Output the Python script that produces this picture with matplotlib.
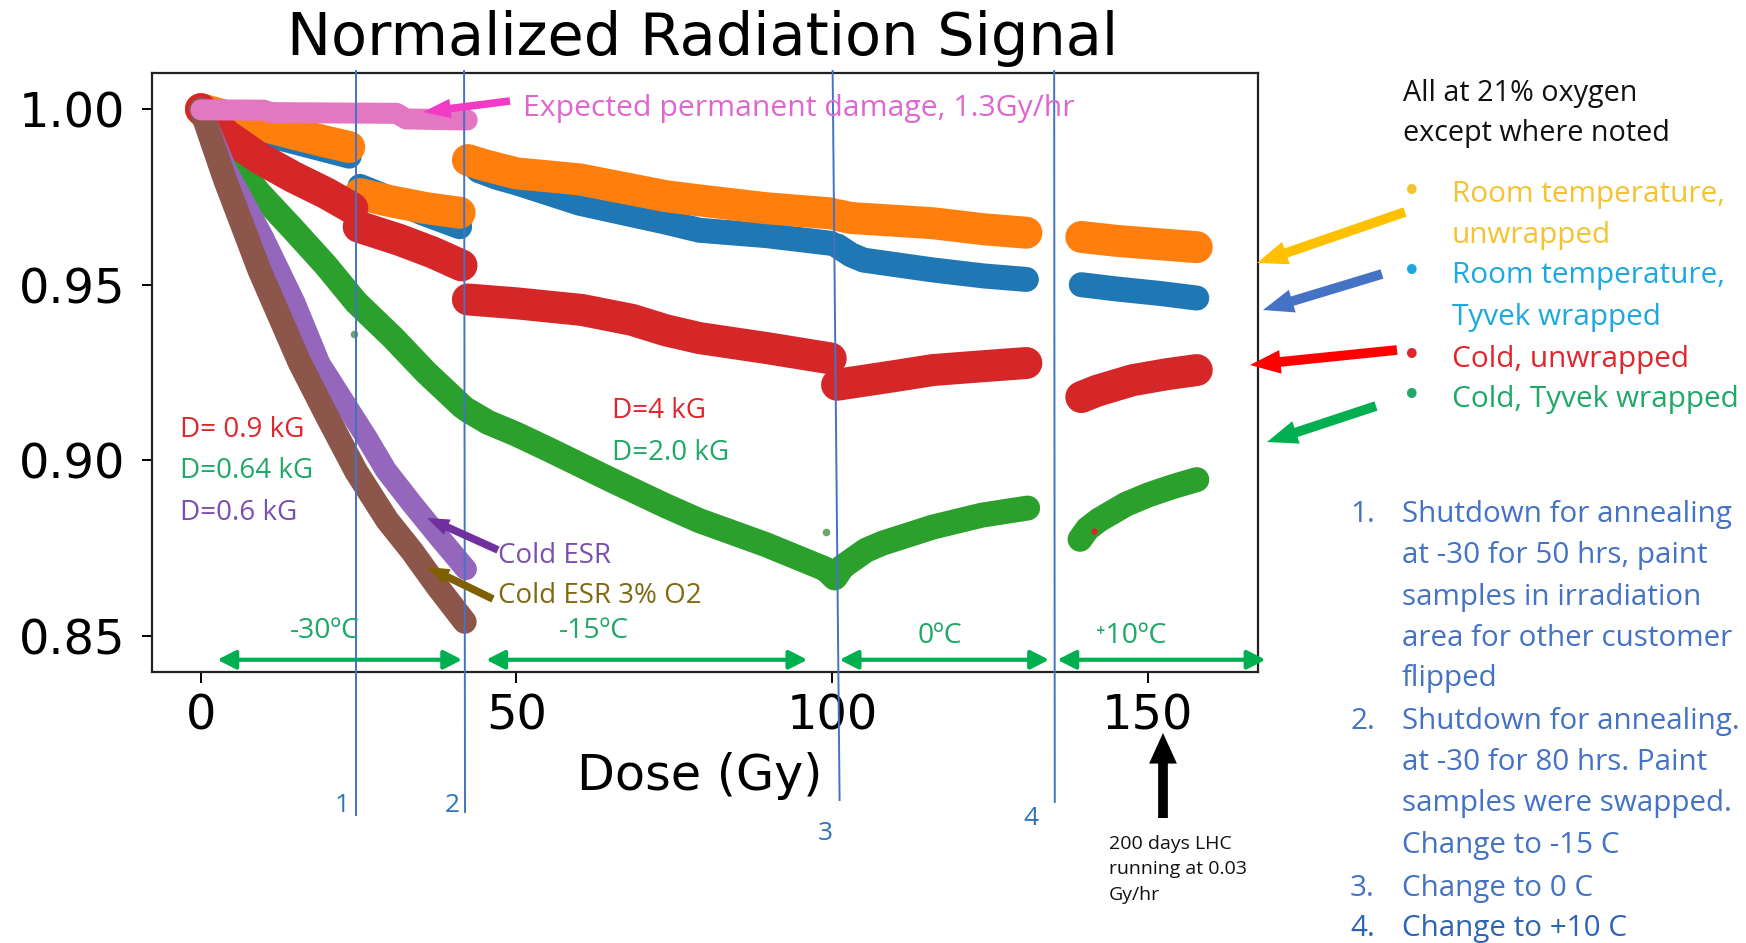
import matplotlib
matplotlib.use("Agg")
import matplotlib.pyplot as plt
from matplotlib.patches import FancyArrowPatch
from matplotlib.transforms import blended_transform_factory

# ---------------------------------------------------------------- data
# Each sample is a list of irradiation periods (dose in Gy, normalised signal)

rt_unwrapped_dose = [
    [0, 4, 7.7, 15.6, 19.9, 23.5],
    [25.2, 30, 35.7, 41.0],
    [42.3, 45, 50, 60, 73.7, 79, 89.5, 99.8],
    [100.9, 103, 116, 124, 130.8],
    [139.5, 145, 152, 157.8],
]
rt_unwrapped_signal = [
    [1.0, 0.998, 0.9963, 0.9926, 0.9907, 0.9892],
    [0.9758, 0.9738, 0.9718, 0.9705],
    [0.9855, 0.984, 0.9817, 0.980, 0.9752, 0.974, 0.9718, 0.9703],
    [0.9698, 0.969, 0.9675, 0.9658, 0.9648],
    [0.9636, 0.9625, 0.9615, 0.9607],
]

rt_tyvek_dose = [
    [0, 4, 7.7, 15.6, 19.9, 23.5],
    [25.2, 30, 35, 41.0],
    [42.3, 44, 47, 50, 60, 73.7, 79, 89.5, 99.8],
    [100.9, 103, 105, 116, 124, 130.8],
    [139.5, 145, 152, 157.8],
]
rt_tyvek_signal = [
    [1.0, 0.997, 0.994, 0.9903, 0.9883, 0.9866],
    [0.978, 0.9745, 0.9705, 0.9665],
    [0.9855, 0.9825, 0.9805, 0.979, 0.9732, 0.9678, 0.9655, 0.964, 0.9618],
    [0.961, 0.9585, 0.957, 0.9542, 0.9525, 0.9515],
    [0.950, 0.9488, 0.9475, 0.9462],
]

cold_tyvek_dose = [
    [0, 3, 6.6, 9.3, 14.5, 19.8, 24.6, 30.4, 35.7, 41.5],
    [42.2, 45.5, 49.9, 55.2, 65, 73.7, 79, 89.5, 99, 100.4],
    [100.6, 101.6, 103.5, 105.4, 108, 116, 123.8, 131.0],
    [139.3, 140.5, 142.3, 146.6, 150.2, 154, 157.8],
]
cold_tyvek_signal = [
    [1.0, 0.990, 0.982, 0.976, 0.966, 0.9555, 0.945, 0.9350, 0.9250, 0.9152],
    [0.9143, 0.9108, 0.9075, 0.9030, 0.8944, 0.8870, 0.8828, 0.8760, 0.8690, 0.8665],
    [0.8668, 0.8696, 0.872, 0.8744, 0.8764, 0.881, 0.8844, 0.8864],
    [0.8775, 0.8805, 0.8830, 0.8875, 0.8902, 0.8925, 0.8945],
]

cold_unwrapped_dose = [
    [0, 4, 9.3, 14.6, 19.9, 24.0],
    [25.0, 31.4, 36.7, 41.3],
    [42.3, 50, 60.4, 68.3, 73.7, 79, 89.5, 99.8],
    [100.8, 110, 116, 124, 130.8],
    [139.5, 142, 147.6, 153, 157.8],
]
cold_unwrapped_signal = [
    [1.0, 0.9926, 0.986, 0.9807, 0.976, 0.9718],
    [0.9665, 0.9628, 0.9592, 0.9555],
    [0.9458, 0.9447, 0.9428, 0.940, 0.937, 0.9348, 0.932, 0.929],
    [0.9215, 0.924, 0.9257, 0.9268, 0.9277],
    [0.918, 0.9198, 0.9228, 0.9245, 0.9257],
]

cold_esr_dose = [0, 4, 9.8, 14.8, 18.8, 26.2, 29.3, 33.5, 37.8, 42.0]
cold_esr_signal = [1.0, 0.9826, 0.9636, 0.9450, 0.9275, 0.9066, 0.8972, 0.8875, 0.878, 0.869]

cold_esr_o2_dose = [0, 3.8, 9.3, 15.6, 20, 24.6, 29.5, 33.5, 37.5, 41.8]
cold_esr_o2_signal = [1.0, 0.980, 0.954, 0.928, 0.9125, 0.8968, 0.883, 0.874, 0.864, 0.854]

expected_dose = [0, 10, 11, 31, 32.5, 42.2]
expected_signal = [0.9998, 0.9997, 0.9990, 0.9988, 0.9972, 0.9969]

# isolated readings
stray_dose = [24.2, 99.1]
stray_signal = [0.936, 0.8796]
stray_red_dose = [141.5]
stray_red_signal = [0.880]

# shutdown / temperature change markers (dose at top and bottom of the drawn line)
event_labels = ["1", "2", "3", "4"]
event_dose_top = [24.6, 41.7, 100.1, 135.2]
event_dose_bottom = [24.6, 41.85, 101.2, 135.3]

temperature_labels = ["-30ºC", "-15ºC", "0ºC", "⁺10ºC"]
temperature_from = [2.6, 45.2, 101.2, 135.7]
temperature_to = [41.4, 96.1, 134.4, 168.7]

x_ticks = [0, 50, 100, 150]
y_ticks = [0.85, 0.90, 0.95, 1.00]

# ---------------------------------------------------------------- figure
W, H = 1746, 943
fig = plt.figure(figsize=(W / 100, H / 100), dpi=100)
fig.patch.set_facecolor("white")

ax_l, ax_r, ax_t, ax_b = 152, 1258, 73.3, 671.7
ax = fig.add_axes([ax_l / W, 1 - ax_b / H, (ax_r - ax_l) / W, (ax_b - ax_t) / H])

PX = 0.72  # points per pixel at 100 dpi


def band(doses, signals, color, width_px, z):
    for d, s in zip(doses, signals):
        ax.plot(d, s, color=color, lw=width_px * PX, solid_capstyle="round",
                solid_joinstyle="round", zorder=z)


band(rt_tyvek_dose, rt_tyvek_signal, "#1f77b4", 25, 2)
band(rt_unwrapped_dose, rt_unwrapped_signal, "#ff7f0e", 32, 3)
band(cold_tyvek_dose, cold_tyvek_signal, "#2ca02c", 25, 4)
band(cold_unwrapped_dose, cold_unwrapped_signal, "#d62728", 32, 5)
band([cold_esr_dose], [cold_esr_signal], "#9467bd", 22, 6)
band([cold_esr_o2_dose], [cold_esr_o2_signal], "#8c564b", 24, 7)
band([expected_dose], [expected_signal], "#e377c2", 21, 8)
ax.scatter(stray_dose, stray_signal, s=30, color="#6aa56a", zorder=4, lw=0)
ax.scatter(stray_red_dose, stray_red_signal, s=20, color="#d62728", zorder=5, lw=0)

ax.set_xlim(-7.75, 167.5)
ax.set_ylim(0.8398, 1.0102)
ax.set_xticks(x_ticks)
ax.set_xticklabels([str(v) for v in x_ticks])
ax.set_yticks(y_ticks)
ax.set_yticklabels([f"{v:.2f}" for v in y_ticks])
ax.tick_params(axis="y", labelsize=34.5, length=7.2, width=1.4, pad=12)
ax.tick_params(axis="x", labelsize=34.5, length=8, width=1.4, pad=7)
for sp in ax.spines.values():
    sp.set_linewidth(1.6)
    sp.set_color("#222222")

ax.set_xlabel("Dose (Gy)", fontsize=35.5)
ax.xaxis.label.set_va("baseline")
ax.xaxis.set_label_coords((700 - ax_l) / (ax_r - ax_l), -(790 - ax_b) / (ax_b - ax_t))

fig.text(703 / W, 1 - 55 / H, "Normalized Radiation Signal", fontsize=42.5,
         ha="center", va="baseline")

# ---------------------------------------------------------------- annotations
ANN = "Open Sans"


def fy(py):
    return 1 - py / H


def note(x, y, s, color, size, ha="left", family=ANN):
    fig.text(x / W, fy(y), s, color=color, fontsize=size, ha=ha, va="baseline",
             family=family)


def arrow(p0, p1, color, hl, hw, tw):
    fig.add_artist(FancyArrowPatch(
        (p0[0] / W, fy(p0[1])), (p1[0] / W, fy(p1[1])), transform=fig.transFigure,
        arrowstyle=f"simple,head_length={hl},head_width={hw},tail_width={tw}",
        mutation_scale=1, color=color, shrinkA=0, shrinkB=0, lw=0, zorder=20))


# event lines
trans = blended_transform_factory(ax.transData, fig.transFigure)
event_bottom_px = [815, 812, 800, 802]
event_label_pos = [(342, 812), (452, 812), (825, 840), (1031, 825)]
for lab, xt, xb, yb, (lx, ly) in zip(event_labels, event_dose_top, event_dose_bottom,
                                      event_bottom_px, event_label_pos):
    ax.plot([xt, xb], [fy(71), fy(yb)], transform=trans, color="#4472C4", lw=1.4,
            clip_on=False, zorder=12)
    note(lx, ly, lab, "#2E75B6", 19, ha="center")

# temperature ranges
temp_label_pos = [(325, 638), (594, 638), (940, 643), (1131, 643)]
for lab, x0, x1, (lx, ly) in zip(temperature_labels, temperature_from, temperature_to,
                                 temp_label_pos):
    ax.add_patch(FancyArrowPatch((x0, 0.8432), (x1, 0.8432),
                                 arrowstyle="<|-|>,head_length=0.55,head_width=0.28",
                                 mutation_scale=20, color="#00B050", lw=3,
                                 shrinkA=0, shrinkB=0, clip_on=False, zorder=11))
    note(lx, ly, lab, "#1FA866", 20.4, ha="center", family=[ANN, "DejaVu Sans"])

# expected damage
arrow((510, 101), (423, 112), "#F23AC6", 20, 14, 5.5)
note(523, 116, "Expected permanent damage, 1.3Gy/hr", "#E066CF", 21.7)

# magnet-field labels
note(180, 437, "D= 0.9 kG", "#E0262D", 20)
note(180, 478, "D=0.64 kG", "#1FA866", 20)
note(180, 520, "D=0.6 kG", "#7A4FB0", 20)
note(612, 418, "D=4 kG", "#E0262D", 20)
note(612, 460, "D=2.0 kG", "#1FA866", 20)

# ESR samples
arrow((498, 550), (427, 518), "#7030A0", 16, 12, 5.5)
arrow((493, 599), (427, 567), "#7F6000", 16, 12, 5.5)
note(498, 563, "Cold ESR", "#7A4FB0", 20)
note(498, 603, "Cold ESR 3% O2", "#7F6A10", 20)

# sample key on the right
note(1403, 101.5, "All at 21% oxygen", "#111111", 20.7)
note(1403, 140.5, "except where noted", "#111111", 20.7)
key = [
    ("Room temperature,", "unwrapped", "#F5C232", "#FFC000", 202, 243,
     (1405, 212), (1257, 263)),
    ("Room temperature,", "Tyvek wrapped", "#1DA8E0", "#4472C4", 283, 325,
     (1382, 274), (1263, 310)),
    ("Cold, unwrapped", None, "#E0262D", "#FF0000", 367, None,
     (1397, 350), (1250, 365)),
    ("Cold, Tyvek wrapped", None, "#1FA866", "#00B050", 407, None,
     (1376, 406), (1267, 442)),
]
for l1, l2, tc, ac, b1, b2, p0, p1 in key:
    fig.text(1412 / W, fy(b1 - 10), "•", color=tc, fontsize=24, ha="center",
             va="center", family="DejaVu Sans")
    note(1452, b1, l1, tc, 21.4)
    if l2:
        note(1452, b2, l2, tc, 21.4)
    arrow(p0, p1, ac, 22, 17, 7)

# shutdown notes
notes_blue = "#4472C4"
note_lines = [
    ("1.", "Shutdown for annealing", 521.6),
    (None, "at -30 for 50 hrs, paint", 562.8),
    (None, "samples in irradiation", 605.1),
    (None, "area for other customer", 646.3),
    (None, "flipped", 686.4),
    ("2.", "Shutdown for annealing.", 728.7),
    (None, "at -30 for 80 hrs. Paint", 769.9),
    (None, "samples were swapped.", 811.1),
    (None, "Change to -15 C", 853.4),
    ("3.", "Change to 0 C", 895.7),
    ("4.", "Change to +10 C", 935.8),
]
for num, text, base in note_lines:
    color = "#2F64B4" if num == "4." else notes_blue
    if num:
        note(1350, base, num, color, 21.3)
    note(1402, base, text, color, 21.3)

# LHC equivalent dose
arrow((1163, 818), (1163, 733), "black", 22, 20, 7)
note(1109, 849, "200 days LHC", "#111111", 14)
note(1109, 874, "running at 0.03", "#111111", 14)
note(1109, 900, "Gy/hr", "#111111", 14)

fig.savefig("out.png", dpi=100, facecolor="white")
